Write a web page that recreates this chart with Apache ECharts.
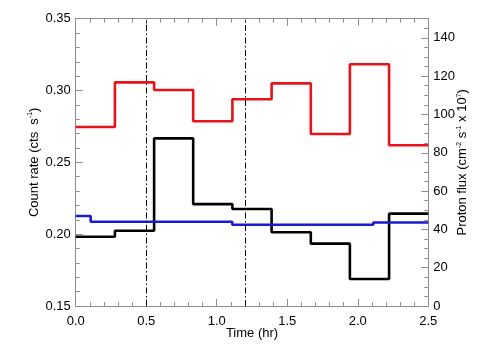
<!DOCTYPE html>
<html>
<head>
<meta charset="utf-8">
<script src="https://cdn.jsdelivr.net/npm/echarts@6/dist/echarts.min.js"></script>
<style>html,body{margin:0;padding:0;background:#fff;}#c{width:504px;height:360px;}</style>
</head>
<body>
<div id="c"></div>
<script>
// Time bin edges (hr) for the count-rate light curves
const timeEdges = [0, 0.278, 0.556, 0.833, 1.111, 1.389, 1.667, 1.944, 2.222, 2.5];
// Red count rate (cts s^-1)
const redRate = [0.2746, 0.3057, 0.3004, 0.2786, 0.2939, 0.3050, 0.2697, 0.3183, 0.2619];
// Black count rate (cts s^-1)
const blackRate = [0.1982, 0.2024, 0.2667, 0.2209, 0.2175, 0.2013, 0.1934, 0.1688, 0.2143];
// Proton flux bins (hr) and values (cm^-2 s^-1 x 10^7)
const protonEdges = [0, 0.106, 1.11, 2.11, 2.5];
const protonFlux = [47.0, 44.0, 42.4, 43.6];
// Vertical dash-dot markers (hr)
const markerTimes = [0.5, 1.2];
// Tick settings
const xTicks = {min: 0, max: 2.5, interval: 0.5};
const leftTicks = {min: 0.15, max: 0.35, interval: 0.05};
const rightTicks = {min: 0, max: 150, interval: 20};

function stepData(edges, vals) {
  const d = vals.map((v, i) => [edges[i], v]);
  d.push([edges[edges.length - 1], vals[vals.length - 1]]);
  return d;
}

const FONT = 'Liberation Sans, Arial, Helvetica, sans-serif';
const AX = '#8c8c8c';
const axisCommon = {
  axisLine: {show: true, onZero: false, lineStyle: {color: AX, width: 1}},
  axisTick: {show: true, inside: true, length: 7, lineStyle: {color: AX}},
  minorTick: {show: true, length: 4, lineStyle: {color: AX}},
  splitLine: {show: false},
  nameMoveOverlap: false
};
const nameStyle = {
  fontFamily: FONT, fontSize: 13, color: '#000',
  rich: {
    n: {fontFamily: FONT, fontSize: 13, color: '#000', lineHeight: 14, verticalAlign: 'bottom'},
    s: {fontFamily: FONT, fontSize: 7, color: '#000', lineHeight: 7, verticalAlign: 'top'}
  }
};

const chart = echarts.init(document.getElementById('c'), null, {renderer: 'canvas'});
chart.setOption({
  animation: false,
  backgroundColor: '#fff',
  grid: {left: 75.7, right: 75.7, top: 18.7, bottom: 54, containLabel: false},
  xAxis: [
    Object.assign({}, axisCommon, {
      type: 'value', position: 'bottom',
      min: xTicks.min, max: xTicks.max, interval: xTicks.interval,
      minorTick: {show: true, splitNumber: 5, length: 4, lineStyle: {color: AX}},
      axisLabel: {margin: 9, fontFamily: FONT, fontSize: 13, color: '#000',
        formatter: v => v.toFixed(1)},
      name: 'Time (hr)', nameLocation: 'middle', nameGap: 21,
      nameTextStyle: {fontFamily: FONT, fontSize: 13, color: '#000'}
    }),
    Object.assign({}, axisCommon, {
      type: 'value', position: 'top',
      min: xTicks.min, max: xTicks.max, interval: xTicks.interval,
      minorTick: {show: true, splitNumber: 5, length: 4, lineStyle: {color: AX}},
      axisLabel: {show: false}
    })
  ],
  yAxis: [
    Object.assign({}, axisCommon, {
      type: 'value', position: 'left',
      min: leftTicks.min, max: leftTicks.max, interval: leftTicks.interval,
      minorTick: {show: true, splitNumber: 5, length: 4, lineStyle: {color: AX}},
      axisLabel: {margin: 5, fontFamily: FONT, fontSize: 13, color: '#000',
        formatter: v => v.toFixed(2)},
      name: '{n|Count rate (cts  s}{s|-1}{n|)}', nameLocation: 'middle', nameGap: 35,
      nameTextStyle: nameStyle
    }),
    Object.assign({}, axisCommon, {
      type: 'value', position: 'right',
      min: rightTicks.min, max: rightTicks.max, interval: rightTicks.interval,
      minorTick: {show: true, splitNumber: 4, length: 4, lineStyle: {color: AX}},
      axisLabel: {margin: 5, fontFamily: FONT, fontSize: 13, color: '#000', showMaxLabel: false},
      name: '{n|Proton flux (cm}{s|-2}{n| s}{s|-1}{n| x 10}{s|7}{n|)}', nameLocation: 'middle', nameGap: 27,
      nameTextStyle: nameStyle
    })
  ],
  series: [
    {
      type: 'line', name: 'red', xAxisIndex: 0, yAxisIndex: 0, step: 'end',
      data: stepData(timeEdges, redRate), showSymbol: false, symbol: 'none',
      lineStyle: {color: '#e8121a', width: 2.6}, z: 3,
      markLine: {
        silent: true, symbol: ['none', 'none'], label: {show: false},
        lineStyle: {color: '#000', width: 1, type: [6, 2.5, 1.5, 2.5]},
        data: markerTimes.map(t => ({xAxis: t}))
      }
    },
    {
      type: 'line', name: 'black', xAxisIndex: 0, yAxisIndex: 0, step: 'end',
      data: stepData(timeEdges, blackRate), showSymbol: false, symbol: 'none',
      lineStyle: {color: '#000000', width: 2.6}, z: 3
    },
    {
      type: 'line', name: 'proton', xAxisIndex: 0, yAxisIndex: 1, step: 'end',
      data: stepData(protonEdges, protonFlux), showSymbol: false, symbol: 'none',
      lineStyle: {color: '#1a1ad0', width: 2.6}, z: 3
    }
  ]
});
</script>
</body>
</html>
